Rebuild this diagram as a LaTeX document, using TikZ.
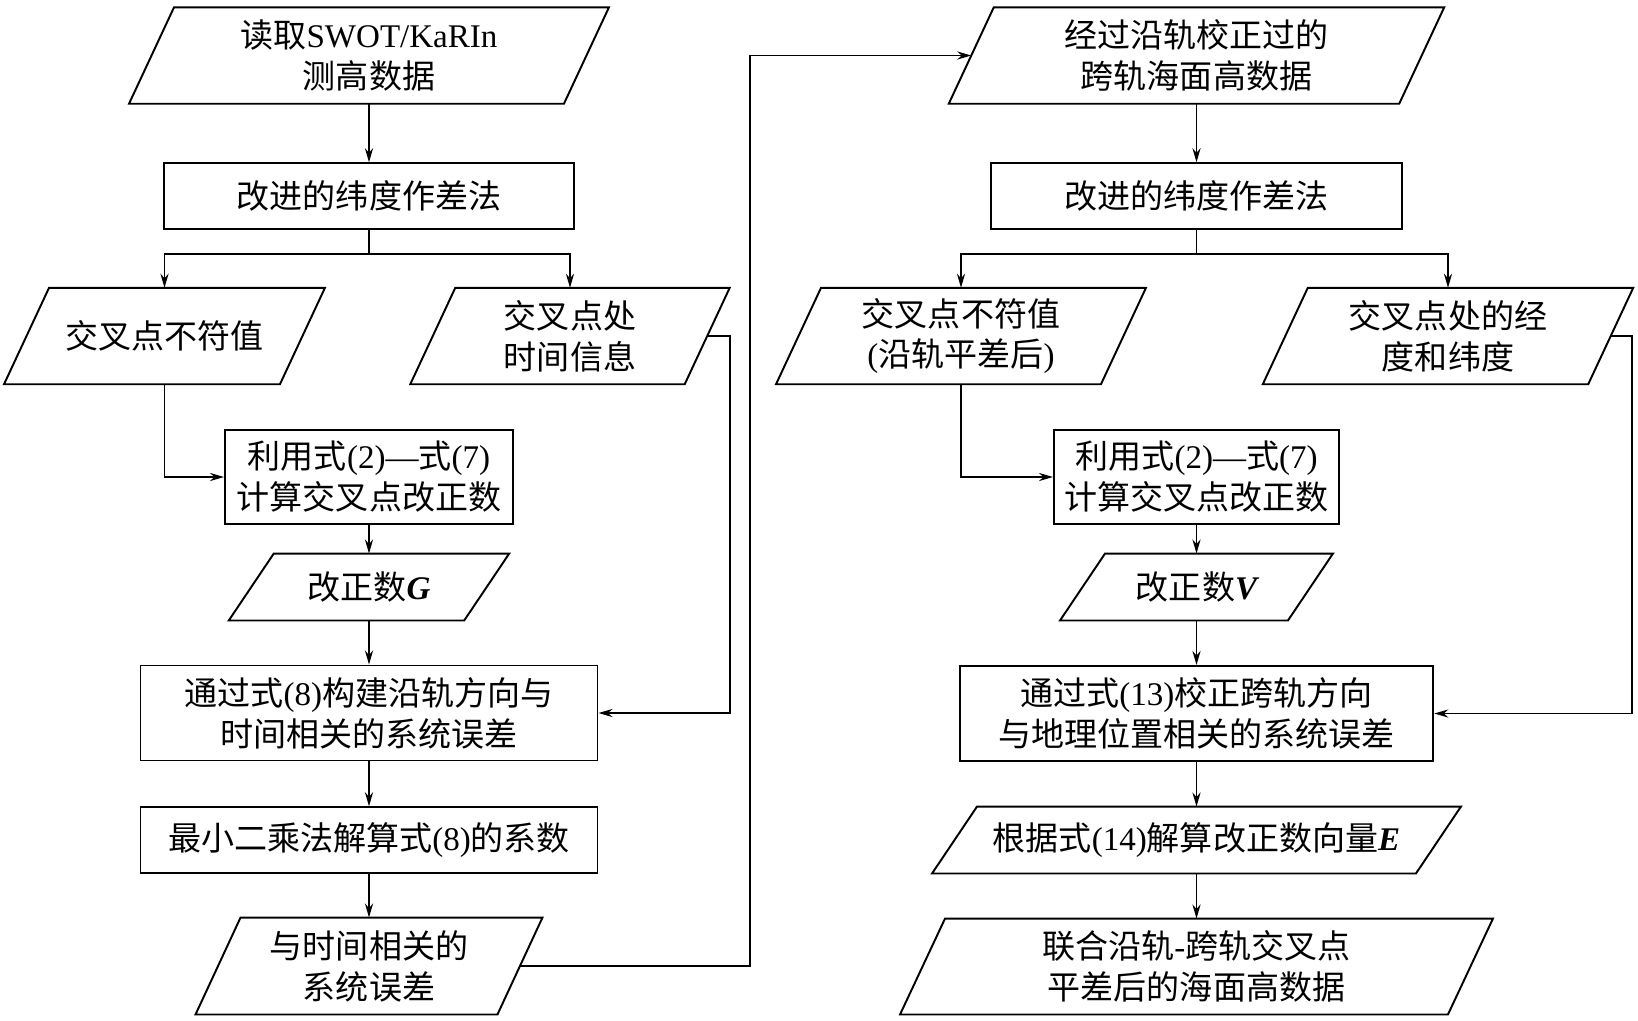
\documentclass[tikz,border=0pt]{standalone}
\usepackage{fontspec}
\setmainfont{Liberation Serif}
\newfontfamily\cjk{Noto Sans CJK SC}
\newcommand{\eng}[1]{{\rmfamily #1}}
\usetikzlibrary{arrows.meta}

\begin{document}
\begin{tikzpicture}[>/.tip={Stealth[length=8pt,width=4.6pt]}, line width=1.1pt,
	every node/.style={font={\cjk\fontsize{18.8pt}{23.3pt}\selectfont}, align=center, inner sep=0pt},
	procbox/.style={draw, minimum height=1.31cm},
	iobox/.style={minimum height=1.89cm}]
	\useasboundingbox (0,0) rectangle (32.76,-20.4);

	% left column
	\draw (7.38,-1.11) node (read) [iobox,minimum width=9.56cm] {读取\eng{SWOT/KaRIn}\\测高数据};
	\draw (7.38,-3.92) node (diff1) [procbox,minimum width=8.19cm] {改进的纬度作差法};
	\draw (3.29,-6.72) node (mis1) [iobox,minimum width=6.38cm] {交叉点不符值};
	\draw (11.40,-6.72) node (tinfo) [iobox,minimum width=6.35cm] {交叉点处\\时间信息};
	\draw (7.38,-9.54) node (calc1) [procbox,minimum width=5.76cm,minimum height=1.89cm] {利用式\eng{(2)—}式\eng{(7)}\\计算交叉点改正数};
	\draw (7.38,-11.74) node (corrG) [iobox,minimum width=5.57cm,minimum height=1.30cm] {改正数\eng{\bfseries\itshape G}};
	\draw (7.38,-14.26) node (tsys) [procbox,minimum width=9.14cm,minimum height=1.90cm] {通过式\eng{(8)}构建沿轨方向与\\时间相关的系统误差};
	\draw (7.38,-16.80) node (coef) [procbox,minimum width=9.14cm] {最小二乘法解算式\eng{(8)}的系数};
	\draw (7.38,-19.32) node (terr) [iobox,minimum width=6.90cm,minimum height=1.90cm] {与时间相关的\\系统误差};

	% right column
	\draw (23.93,-1.11) node (cross) [iobox,minimum width=9.87cm] {经过沿轨校正过的\\跨轨海面高数据};
	\draw (23.93,-3.92) node (diff2) [procbox,minimum width=8.21cm] {改进的纬度作差法};
	\draw (19.22,-6.72) node (mis2) [iobox,minimum width=7.36cm] {交叉点不符值\\\eng{(}沿轨平差后\eng{)}};
	\draw (28.96,-6.72) node (geo) [iobox,minimum width=7.37cm] {交叉点处的经\\度和纬度};
	\draw (23.93,-9.54) node (calc2) [procbox,minimum width=5.70cm,minimum height=1.89cm] {利用式\eng{(2)—}式\eng{(7)}\\计算交叉点改正数};
	\draw (23.93,-11.74) node (corrV) [iobox,minimum width=5.42cm,minimum height=1.30cm] {改正数\eng{\bfseries\itshape V}};
	\draw (23.93,-14.27) node (vcor) [procbox,minimum width=9.47cm,minimum height=1.90cm] {通过式\eng{(13)}校正跨轨方向\\与地理位置相关的系统误差};
	\draw (23.93,-16.80) node (vecE) [iobox,minimum width=10.54cm,minimum height=1.30cm] {根据式\eng{(14)}解算改正数向量\eng{\bfseries\itshape E}};
	\draw (23.93,-19.33) node (final) [iobox,minimum width=11.82cm,minimum height=1.88cm] {联合沿轨\eng{-}跨轨交叉点\\平差后的海面高数据};

	% slanted outlines of the data boxes
	\foreach \n in {read,mis1,tinfo,corrG,terr,cross,mis2,geo,corrV,vecE,final}
		\draw ([xshift=0.9cm]\n.north west) -- (\n.north east) -- ([xshift=-0.9cm]\n.south east) -- (\n.south west) -- cycle;

	\draw[->] (read) -- (diff1);
	\draw[->] (diff1.south) -- ++(0,-0.49) -| (mis1.north);
	\draw[->] (diff1.south) -- ++(0,-0.49) -| (tinfo.north);
	\draw[->] (mis1.south) |- (calc1.west);
	\draw[->] (calc1) -- (corrG);
	\draw[->] (corrG) -- (tsys);
	\draw[->] ([xshift=-0.45cm]tinfo.east) -- ++(0.45,0) |- (tsys.east);
	\draw[->] (tsys) -- (coef);
	\draw[->] (coef) -- (terr);
	\draw[->] ([xshift=-0.45cm]terr.east) -- ++(4.6,0) |- ([xshift=0.45cm]cross.west);

	\draw[->] (cross) -- (diff2);
	\draw[->] (diff2.south) -- ++(0,-0.49) -| (mis2.north);
	\draw[->] (diff2.south) -- ++(0,-0.49) -| (geo.north);
	\draw[->] (mis2.south) |- (calc2.west);
	\draw[->] (calc2) -- (corrV);
	\draw[->] (corrV) -- (vcor);
	\draw[->] ([xshift=-0.45cm]geo.east) -- ++(0.42,0) |- (vcor.east);
	\draw[->] (vcor) -- (vecE);
	\draw[->] (vecE) -- (final);
\end{tikzpicture}
\end{document}
